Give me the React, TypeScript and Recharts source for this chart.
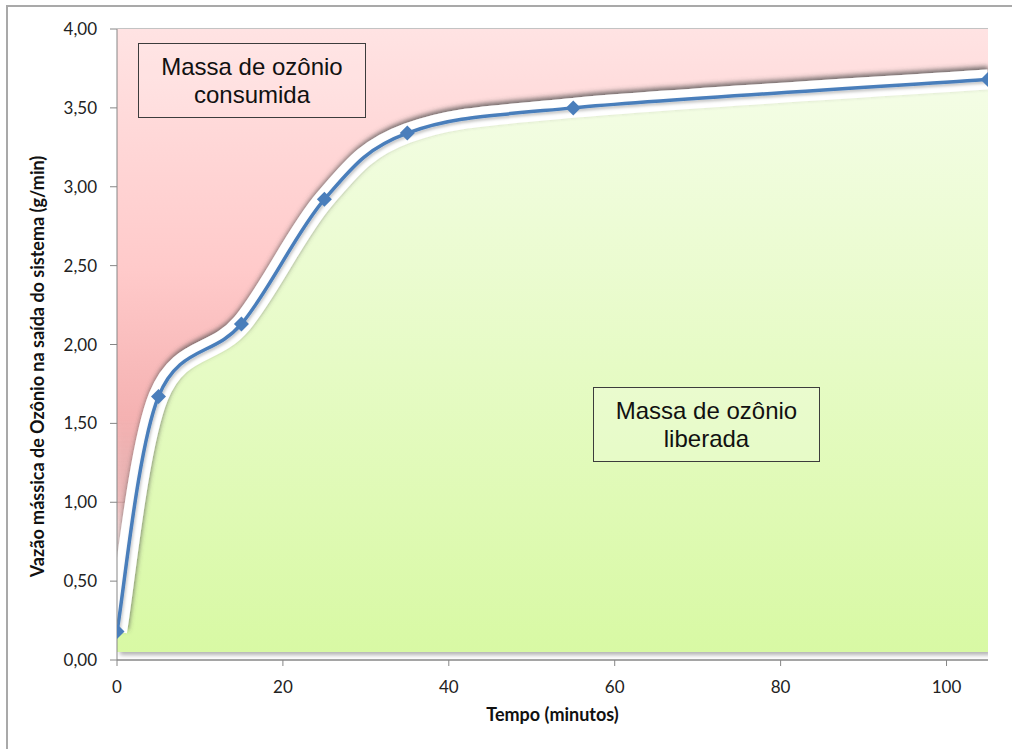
import React from 'react';
import {
  ComposedChart,
  Area,
  Line,
  XAxis,
  YAxis,
  CartesianGrid,
} from 'recharts';

// Ozone mass flow at the system outlet over time
const TIME_MIN = [0, 5, 15, 25, 35, 55, 105];
const OZONE_OUT = [0.18, 1.67, 2.13, 2.92, 3.34, 3.5, 3.68];

const X_TICKS = [0, 20, 40, 60, 80, 100];
const Y_TICKS = [0, 0.5, 1, 1.5, 2, 2.5, 3, 3.5, 4];
const X_MAX = 105;
const Y_MAX = 4;
const FLOOR = 0.05; // bottom edge of the "liberada" region

const rows = TIME_MIN.map((t, i) => ({ t, v: OZONE_OUT[i] }));

const fmt = (v: number) => v.toFixed(2).replace('.', ',');

// Excel-style smoothed line (Catmull-Rom as cubic beziers)
function smoothCurve(context: any) {
  let pts: number[][] = [];
  let line = NaN;
  return {
    areaStart() {
      line = 0;
    },
    areaEnd() {
      line = NaN;
    },
    lineStart() {
      pts = [];
    },
    point(x: number, y: number) {
      pts.push([+x, +y]);
    },
    lineEnd() {
      const n = pts.length;
      if (n) {
        if (line) context.lineTo(pts[0][0], pts[0][1]);
        else context.moveTo(pts[0][0], pts[0][1]);
        for (let i = 0; i < n - 1; i++) {
          const p0 = pts[Math.max(i - 1, 0)];
          const p1 = pts[i];
          const p2 = pts[i + 1];
          const p3 = pts[Math.min(i + 2, n - 1)];
          context.bezierCurveTo(
            p1[0] + (p2[0] - p0[0]) / 6,
            p1[1] + (p2[1] - p0[1]) / 6,
            p2[0] - (p3[0] - p1[0]) / 6,
            p2[1] - (p3[1] - p1[1]) / 6,
            p2[0],
            p2[1]
          );
        }
      }
      if (line || (line !== 0 && n === 1)) context.closePath();
      line = 1 - line;
    },
  };
}

const Diamond = (props: any) => {
  const { cx, cy, index } = props;
  const r = 7.5;
  return (
    <path
      key={`d-${index}`}
      d={`M${cx},${cy - r}L${cx + r},${cy}L${cx},${cy + r}L${cx - r},${cy}Z`}
      fill="#4a7ebb"
    />
  );
};

const tickStyle = { fontFamily: 'Lato, sans-serif', fontSize: 17, fill: '#222' };
const titleStyle: React.CSSProperties = {
  fontFamily: 'Lato, sans-serif',
  fontSize: 18,
  fontWeight: 700,
  fill: '#111',
};

const boxStyle: React.CSSProperties = {
  position: 'absolute',
  boxSizing: 'border-box',
  border: '1px solid #3c3c3c',
  display: 'flex',
  alignItems: 'center',
  justifyContent: 'center',
  textAlign: 'center',
  fontFamily: '"Liberation Sans", Arial, sans-serif',
  fontSize: 24,
  lineHeight: '28px',
  color: '#111',
};

export default function App() {
  return (
    <div
      style={{
        position: 'absolute',
        left: 0,
        top: 0,
        width: 1012,
        height: 749,
        overflow: 'hidden',
        background: '#fff',
      }}
    >
      <div
        style={{
          position: 'absolute',
          left: 6,
          top: 5,
          width: 1030,
          height: 780,
          border: '2px solid #a9a9a9',
        }}
      />
      <div style={{ position: 'absolute', left: 0, top: 0 }}>
        <ComposedChart
          width={1012}
          height={749}
          data={rows}
          margin={{ top: 29, right: 24, bottom: 29, left: 0 }}
        >
          <defs>
            <linearGradient id="consumedFill" x1="0" y1="0" x2="0" y2="1">
              <stop offset="0%" stopColor="#ffe3e3" />
              <stop offset="40%" stopColor="#ffcaca" />
              <stop offset="64%" stopColor="#f5b2b2" />
              <stop offset="78%" stopColor="#e8a8a8" stopOpacity={0.75} />
              <stop offset="92%" stopColor="#f4c0c0" stopOpacity={0} />
            </linearGradient>
            <linearGradient id="releasedFill" x1="0" y1="0" x2="0" y2="1">
              <stop offset="0%" stopColor="#f4fde6" />
              <stop offset="100%" stopColor="#d8f9a4" />
            </linearGradient>
            <filter id="dropShadow" x="-5%" y="-5%" width="115%" height="115%">
              <feDropShadow dx="3" dy="3" stdDeviation="2" floodColor="#000" floodOpacity="0.3" />
            </filter>
            <filter id="bandShadow" x="-5%" y="-10%" width="110%" height="120%">
              <feDropShadow dx="1" dy="-3" stdDeviation="2.5" floodColor="#4a4a4a" floodOpacity="0.8" />
            </filter>
            <filter id="lineShadow" x="-5%" y="-10%" width="110%" height="120%">
              <feDropShadow dx="1" dy="2" stdDeviation="1.5" floodColor="#000" floodOpacity="0.25" />
            </filter>
          </defs>

          <CartesianGrid horizontal vertical={false} stroke="#8c8c8c" />

          <Area
            dataKey={(d: any) => [d.v, Y_MAX]}
            type={smoothCurve as any}
            stroke="none"
            fill="url(#consumedFill)"
            fillOpacity={1}
            filter="url(#dropShadow)"
            isAnimationActive={false}
            activeDot={false}
          />
          <Area
            dataKey="v"
            baseValue={FLOOR}
            type={smoothCurve as any}
            stroke="none"
            fill="url(#releasedFill)"
            fillOpacity={1}
            filter="url(#dropShadow)"
            isAnimationActive={false}
            activeDot={false}
          />
          <Line
            dataKey="v"
            type={smoothCurve as any}
            stroke="#ffffff"
            strokeWidth={20}
            filter="url(#bandShadow)"
            dot={false}
            activeDot={false}
            isAnimationActive={false}
          />
          <Line
            dataKey="v"
            type={smoothCurve as any}
            stroke="#4a7ebb"
            strokeWidth={3.5}
            filter="url(#lineShadow)"
            dot={Diamond}
            activeDot={false}
            isAnimationActive={false}
          />

          <XAxis
            dataKey="t"
            type="number"
            domain={[0, X_MAX]}
            ticks={X_TICKS}
            allowDataOverflow
            stroke="#868686"
            tickSize={6}
            tickMargin={15}
            tick={tickStyle}
            height={60}
            label={{
              content: ({ viewBox }: any) => (
                <text
                  x={viewBox.x + viewBox.width / 2}
                  y={viewBox.y + 61}
                  textAnchor="middle"
                  style={titleStyle}
                >
                  Tempo (minutos)
                </text>
              ),
            }}
          />
          <YAxis
            type="number"
            domain={[0, Y_MAX]}
            ticks={Y_TICKS}
            tickFormatter={fmt}
            stroke="#868686"
            width={117}
            tickSize={7}
            tickMargin={13}
            tick={tickStyle}
            label={{
              content: ({ viewBox }: any) => {
                const cx = viewBox.x + 44;
                const cy = viewBox.y + viewBox.height / 2 + 22;
                return (
                  <text
                    x={cx}
                    y={cy}
                    textAnchor="middle"
                    transform={`rotate(-90, ${cx}, ${cy})`}
                    style={titleStyle}
                  >
                    Vazão mássica de Ozônio na saída do sistema (g/min)
                  </text>
                );
              },
            }}
          />
        </ComposedChart>
      </div>

      <div
        style={{
          ...boxStyle,
          left: 138,
          top: 43,
          width: 228,
          height: 75,
          background: 'rgba(255,255,255,0.12)',
        }}
      >
        Massa de ozônio
        <br />
        consumida
      </div>
      <div
        style={{
          ...boxStyle,
          left: 593,
          top: 387,
          width: 227,
          height: 75,
          background: 'rgba(255,255,255,0.2)',
        }}
      >
        Massa de ozônio
        <br />
        liberada
      </div>
    </div>
  );
}
